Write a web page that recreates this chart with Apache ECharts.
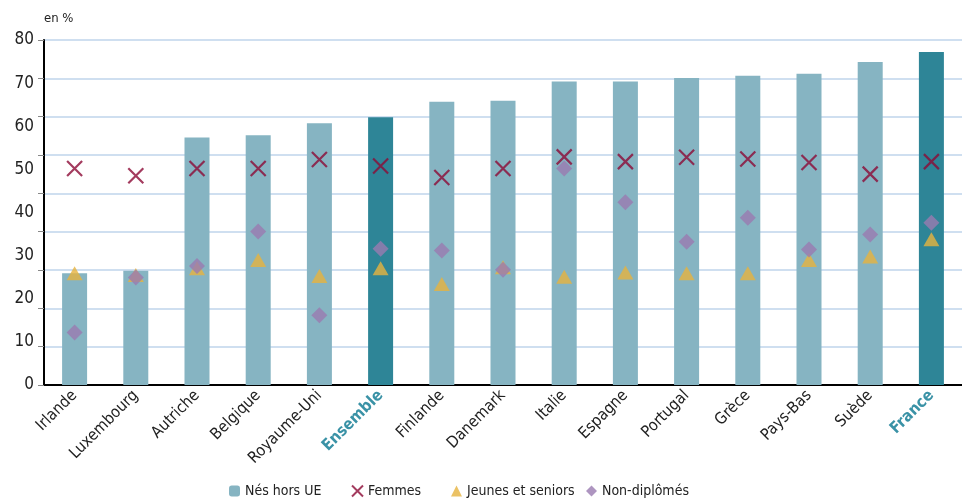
<!DOCTYPE html>
<html><head><meta charset="utf-8">
<script src="https://cdn.jsdelivr.net/npm/echarts@6/dist/echarts.min.js"></script>
<style>html,body{margin:0;padding:0;background:#fff}#c{width:962px;height:503px}</style>
</head><body><div id="c"></div>
<script>
const categories = ["Irlande","Luxembourg","Autriche","Belgique","Royaume-Uni","Ensemble","Finlande","Danemark","Italie","Espagne","Portugal","Grèce","Pays-Bas","Suède","France"];
const nesHorsUE = [25.9,26.5,57.4,57.9,60.7,62.1,65.7,65.9,70.4,70.4,71.2,71.7,72.2,74.9,77.2];
const femmes = [50.2,48.5,50.2,50.2,52.3,50.8,48.1,50.2,52.9,51.8,52.8,52.4,51.6,48.9,51.8];
const jeunesSeniors = [25.9,25.5,27.1,29.0,25.3,27.1,23.4,27.3,25.1,26.1,25.9,25.9,29.0,29.8,33.8];
const nonDiplomes = [12.2,24.9,27.6,35.6,16.2,31.6,31.2,26.7,50.2,42.4,33.2,38.8,31.4,34.9,37.6];
const highlighted = ["Ensemble","France"];
const yTickLabels = [0,10,20,30,40,50,60,70,80];
const seriesNames = ['Nés hors UE','Femmes','Jeunes et seniors','Non-diplômés'];

const FONT = '"DejaVu Sans Condensed","Roboto",sans-serif';
const legendLefts = [224,346,446,581];
const chart = echarts.init(document.getElementById('c'));
chart.setOption({
  animation:false,
  textStyle:{fontFamily:FONT},
  grid:{left:44,right:-6,top:40,bottom:118},
  graphic:[{type:'text',left:44,top:12,style:{text:'en %',fontSize:13,fill:'#222',fontFamily:FONT}}],
  legend:seriesNames.map((n,i)=>({
    top:479,left:legendLefts[i],itemWidth:11,itemHeight:11,itemGap:0,padding:5,
    textStyle:{fontSize:14,color:'#222',fontFamily:FONT},
    data:[n]
  })),
  xAxis:{
    type:'category',data:categories,
    axisLine:{lineStyle:{color:'#000',width:2}},
    axisTick:{show:false},
    axisLabel:{
      rotate:45,interval:0,margin:8,fontSize:16,color:'#222',fontFamily:FONT,
      formatter:v=>highlighted.includes(v)?'{h|'+v+'}':v,
      rich:{h:{color:'#3a92a6',fontWeight:'bold',fontSize:16,fontFamily:FONT}}
    }
  },
  yAxis:[
    {type:'value',min:0,max:80,interval:10,position:'left',
     axisLine:{show:false},axisTick:{show:false},splitLine:{show:false},
     axisLabel:{fontSize:17,color:'#222',margin:10,fontFamily:FONT,
       formatter:v=>yTickLabels.includes(v)?String(v):''}},
    {type:'value',min:0,max:9,interval:1,position:'left',
     axisLine:{show:true,lineStyle:{color:'#000',width:2}},
     axisTick:{show:true,length:6,lineStyle:{color:'#888'}},
     axisLabel:{show:false},
     splitLine:{show:true,lineStyle:{color:'#cfdff0',width:2}}}
  ],
  series:[
    {name:seriesNames[0],type:'bar',barWidth:25,yAxisIndex:0,
     itemStyle:{color:'#86b4c2'},
     data:nesHorsUE.map((v,i)=>({value:v,itemStyle:{color:highlighted.includes(categories[i])?'#2e8597':'#86b4c2'}}))},
    {name:seriesNames[1],type:'scatter',yAxisIndex:0,symbol:'path://M0,0L10,10M10,0L0,10',symbolSize:15,
     itemStyle:{color:'#8c0a36',borderColor:'#8c0a36',borderWidth:2.2},data:femmes},
    {name:seriesNames[2],type:'scatter',yAxisIndex:0,symbol:'triangle',symbolSize:[16,14],
     itemStyle:{color:'#e6b33e'},data:jeunesSeniors},
    {name:seriesNames[3],type:'scatter',yAxisIndex:0,symbol:'diamond',symbolSize:[16,16],
     itemStyle:{color:'#9a7bb0'},data:nonDiplomes}
  ]
});
</script></body></html>
